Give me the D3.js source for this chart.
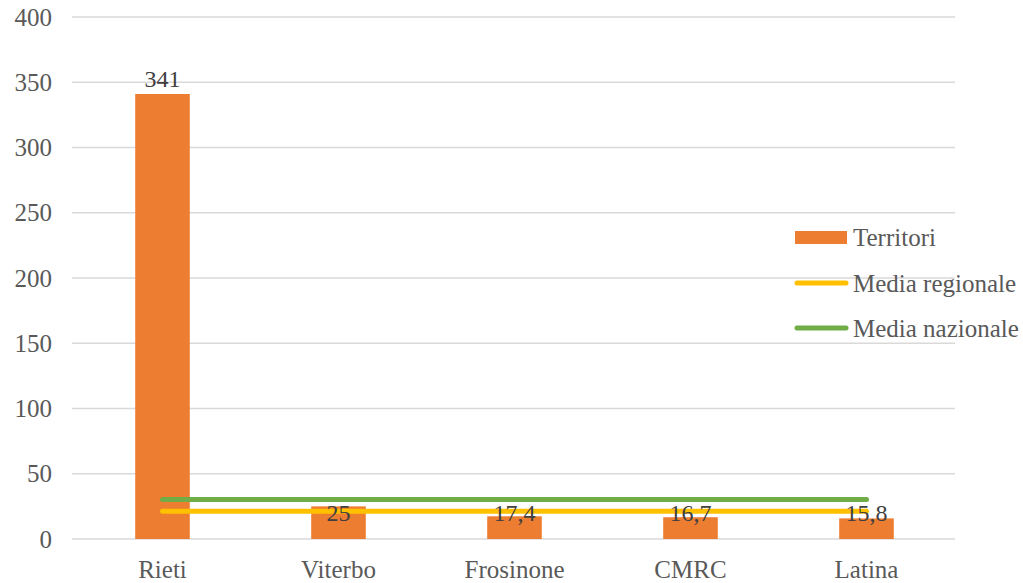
<!DOCTYPE html>
<html><head><meta charset="utf-8">
<script src="https://cdn.jsdelivr.net/npm/d3@7"></script>
<style>body{margin:0;background:#fff}svg{display:block}text{font-family:"Liberation Serif","DejaVu Serif",serif}</style>
</head><body>
<svg id="c" width="1023" height="583"></svg>
<script>
const categories = ["Rieti","Viterbo","Frosinone","CMRC","Latina"];
const territori = [341, 25, 17.4, 16.7, 15.8];
const valueLabels = ["341","25","17,4","16,7","15,8"];
const mediaRegionale = [21.2, 21.2, 21.2, 21.2, 21.2];
const mediaNazionale = [30.2, 30.2, 30.2, 30.2, 30.2];
const yTicks = [0,50,100,150,200,250,300,350,400];
const seriesNames = ["Territori","Media regionale","Media nazionale"];

const svg = d3.select("#c");
const L = 72, R = 955, T = 17, B = 539;
const x = d3.scaleBand().domain(categories).range([74.5, 954.5]).paddingInner(0.69).paddingOuter(0.345);
const y = d3.scaleLinear().domain([0, 400]).range([B, T]);
const col = {bar:"#ED7D31", reg:"#FFC000", naz:"#70AD47", txt:"#595959", lab:"#404040", grid:"#D9D9D9"};
const FS = 25;

// gridlines
svg.append("g").selectAll("line").data(yTicks).join("line")
  .attr("x1", L).attr("x2", R).attr("y1", d=>y(d)).attr("y2", d=>y(d))
  .attr("stroke", col.grid).attr("stroke-width", 1.3);
// y tick labels
svg.append("g").selectAll("text").data(yTicks).join("text")
  .attr("x", 52).attr("y", d=>y(d)+8.5).attr("text-anchor","end")
  .attr("font-size", FS).attr("fill", col.txt).text(d=>d);

// bars
svg.append("g").selectAll("rect").data(territori).join("rect")
  .attr("x", (d,i)=>x(categories[i])).attr("width", x.bandwidth())
  .attr("y", d=>y(d)).attr("height", d=>y(0)-y(d)).attr("fill", col.bar);

// lines
const cx = (i)=>x(categories[i]) + x.bandwidth()/2;
const lineGen = d3.line().x((d,i)=>cx(i)).y(d=>y(d));
svg.append("path").datum(mediaRegionale).attr("d", lineGen).attr("fill","none")
  .attr("stroke", col.reg).attr("stroke-width", 5).attr("stroke-linecap","round");
svg.append("path").datum(mediaNazionale).attr("d", lineGen).attr("fill","none")
  .attr("stroke", col.naz).attr("stroke-width", 5).attr("stroke-linecap","round");

// value labels (small bars: labels kept at a common baseline as in the source)
const labelFloor = 13.6, smallBar = 30;
svg.append("g").selectAll("text").data(territori).join("text")
  .attr("x", (d,i)=>cx(i)).attr("y", d=> d > smallBar ? y(d)-7 : y(labelFloor))
  .attr("text-anchor","middle").attr("font-size", 24).attr("fill", col.lab)
  .text((d,i)=>valueLabels[i]);

// category labels
svg.append("g").selectAll("text").data(categories).join("text")
  .attr("x", (d,i)=>cx(i)).attr("y", 578).attr("text-anchor","middle")
  .attr("font-size", FS).attr("fill", col.txt).text(d=>d);

// legend
const lg = svg.append("g");
const ly = [237, 283, 328];
lg.append("rect").attr("x", 795).attr("y", ly[0]-6).attr("width", 52).attr("height", 13).attr("fill", col.bar);
lg.append("line").attr("x1", 797).attr("x2", 846).attr("y1", ly[1]).attr("y2", ly[1])
  .attr("stroke", col.reg).attr("stroke-width", 5).attr("stroke-linecap","round");
lg.append("line").attr("x1", 797).attr("x2", 846).attr("y1", ly[2]).attr("y2", ly[2])
  .attr("stroke", col.naz).attr("stroke-width", 5).attr("stroke-linecap","round");
lg.selectAll("text").data(seriesNames).join("text")
  .attr("x", 853).attr("y", (d,i)=>ly[i]+8.5).attr("font-size", FS).attr("fill", col.txt).text(d=>d);
</script>
</body></html>
